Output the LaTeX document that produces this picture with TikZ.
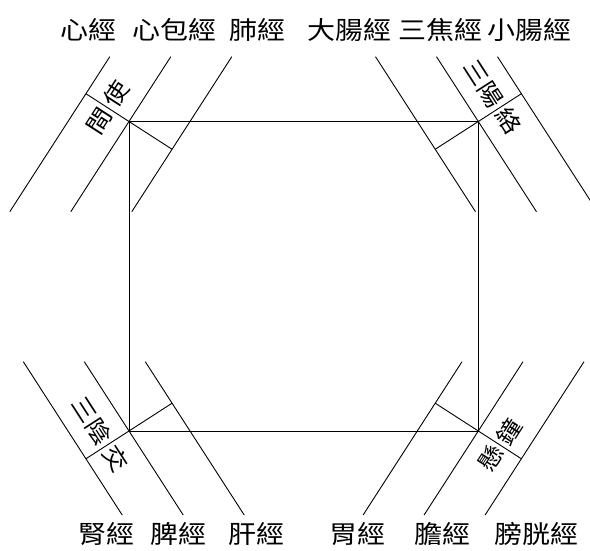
\documentclass[tikz,border=0pt]{standalone}
\usepackage{fontspec}
\setmainfont{Noto Sans CJK TC}[FakeStretch=1.12]
\usetikzlibrary{calc}
\tikzset{jing/.style={font=\fontsize{25}{25}\selectfont,inner sep=1pt},
  xue/.style={font=\fontsize{23}{23}\selectfont,inner sep=1pt},
  mai/.style={line width=0.9pt}}

\begin{document}
\begin{tikzpicture}[x=1pt,y=-1pt]
\useasboundingbox (0,0) rectangle (590,551);
\clip (0,0) rectangle (590,551);
\coordinate (tl) at (129,121.5);\coordinate (tr) at (478.3,121.5);
\coordinate (bl) at (129,431);\coordinate (br) at (478.3,431);
\draw[mai] (tl)--(tr)--(br)--(bl)--cycle;
% three channels at each corner, o = outer, m = through corner, i = inner
\foreach \c/\s/\ax/\ay/\bx/\by in {tl/1/41.8/-64.8/-58.2/90.2,tr/-1/-41.8/-64.8/58.2/90.2,
    bl/1/-44.7/-69.3/54.2/84,br/-1/44.7/-69.3/-54.2/84}{
  \foreach \n/\d in {o/-61,m/0,i/61}{
    \coordinate (\c\n a) at ($(\c)+({\s*\d},0)+(\ax,\ay)$);
    \coordinate (\c\n b) at ($(\c)+({\s*\d},0)+(\bx,\by)$);
    \draw[mai] (\c\n a)--(\c\n b);}
  \coordinate (\c f) at ($(\c ia)!(\c)!(\c ib)$);
  \coordinate (\c g) at ($(\c oa)!(\c)!(\c ob)$);
  \coordinate (\c h) at ($(\c)!0.5!(\c g)$);
  \draw[mai] (\c f)--(\c g);}
% points, the gap sits on the cross line
\node[xue,rotate=57.2] (jianshi) at (tlh) {間\hspace{6pt}使};
\node[xue,rotate=-57.2] (sanyangluo) at (trh) {三陽\hspace{6pt}絡\phantom{陽}};
\node[xue,rotate=-57.2] (sanyinjiao) at (blh) {三陰\hspace{6pt}交\phantom{陰}};
\node[xue,rotate=57.2] (xuanzhong) at (brh) {懸\hspace{6pt}鐘};
% channels
\node[jing] (xin) at (88.5,30) {心經};
\node[jing] (xinbao) at (174,30) {心包經};
\node[jing] (fei) at (257.5,30) {肺經};
\node[jing] (dachang) at (349,30) {大腸經};
\node[jing] (sanjiao) at (440,30) {三焦經};
\node[jing] (xiaochang) at (529,30) {小腸經};
\node[jing] (shen) at (106.5,534) {腎經};
\node[jing] (pi) at (178,534) {脾經};
\node[jing] (gan) at (256,534) {肝經};
\node[jing] (wei) at (357.5,534) {胃經};
\node[jing] (dan) at (442.5,534) {膽經};
\node[jing] (pangguang) at (536,534) {膀胱經};
\end{tikzpicture}
\end{document}
